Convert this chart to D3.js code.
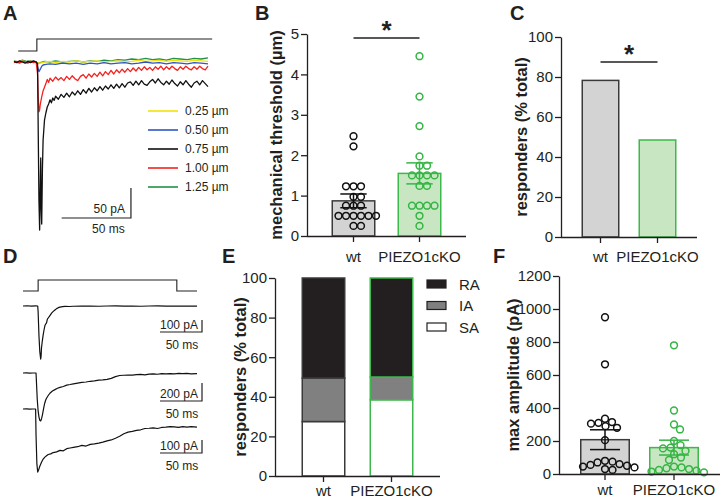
<!DOCTYPE html>
<html><head><meta charset="utf-8">
<script src="https://cdn.jsdelivr.net/npm/d3@7"></script>
<style>
body{margin:0;background:#fff}
svg{display:block}
text{font-family:"Liberation Sans",Arial,Helvetica,sans-serif;fill:#231f20}
</style></head>
<body><svg id="c" width="726" height="504"></svg>
<script>
// ---------------- DATA ----------------
const groups = ["wt", "PIEZO1cKO"];

// Panel A: stimulus-response traces (time ms, current pA)
const traceLabels = ["0.25 µm", "0.50 µm", "0.75 µm", "1.00 µm", "1.25 µm"];
const traceColors = ["#f2e30c", "#2f55c4", "#111111", "#f2231f", "#23914a"];
const trace025 = [[0,1],[3,0],[6,2],[9,0],[12,1],[15,0],[17,-1],[19,-2],[22,0],[26,1],[30,-1],[35,1],[40,0],[45,2],[50,0],[55,1],[60,2],[65,0],[70,1],[75,2],[80,0],[85,1],[90,3],[95,1],[100,2],[105,3],[110,1],[115,3],[120,2],[125,1],[130,3],[135,2],[140,1]];
const trace050 = [[0,0],[3,-1],[6,1],[9,-1],[12,0],[15,1],[16.5,-1],[17,-8],[18,-16],[19,-12],[20,-7],[21,-5],[23,-4],[26,-3],[30,-4],[35,-2],[40,-3],[45,-2],[50,-4],[55,-2],[60,-3],[65,-1],[70,-3],[75,-2],[80,-1],[85,-3],[90,-2],[95,0],[100,-2],[105,-1],[110,-3],[115,-1],[120,-2],[125,-3],[130,-1],[135,-2],[140,-3]];
const trace075 = [[0,1],[2,-1],[4,2],[6,0],[8,-2],[10,1],[12,-1],[14,2],[16,0],[17,-3],[17.5,-120],[18,-230],[18.5,-280],[19,-200],[19.3,-160],[19.6,-240],[20,-270],[20.5,-180],[21,-130],[22,-97],[23,-85],[24,-75],[25,-70],[26,-63],[27,-68],[28,-60],[29,-64],[30,-57],[32,-62],[34,-54],[36,-59],[38,-52],[40,-58],[42,-50],[44,-55],[46,-48],[48,-54],[50,-46],[52,-52],[54,-44],[56,-50],[58,-43],[60,-48],[62,-41],[64,-47],[66,-40],[68,-45],[70,-38],[72,-44],[74,-37],[76,-43],[78,-36],[80,-42],[82,-35],[84,-33],[86,-39],[88,-32],[90,-38],[92,-31],[94,-37],[96,-39],[98,-33],[100,-29],[102,-35],[104,-28],[106,-34],[108,-38],[110,-32],[112,-37],[114,-30],[116,-36],[118,-40],[120,-33],[122,-38],[124,-31],[126,-37],[128,-42],[130,-35],[132,-32],[134,-38],[136,-31],[138,-36],[140,-41]];
const trace100 = [[0,-1],[2,1],[4,-2],[6,1],[8,0],[10,-2],[12,1],[14,-1],[16,0],[17,-20],[17.5,-60],[18,-83],[18.5,-80],[19,-70],[20,-58],[21,-48],[22,-42],[23,-36],[24,-29],[25,-34],[26,-27],[28,-32],[30,-25],[32,-30],[34,-26],[36,-31],[38,-24],[40,-29],[42,-23],[44,-28],[46,-31],[48,-24],[50,-21],[52,-27],[54,-20],[56,-25],[58,-19],[60,-24],[62,-17],[64,-23],[66,-16],[68,-21],[70,-14],[72,-20],[74,-13],[76,-18],[78,-12],[80,-17],[82,-11],[84,-16],[86,-10],[88,-15],[90,-9],[92,-14],[94,-8],[96,-13],[98,-9],[100,-14],[102,-8],[104,-12],[106,-7],[108,-13],[110,-8],[112,-12],[114,-7],[116,-11],[118,-14],[120,-8],[122,-12],[124,-7],[126,-11],[128,-13],[130,-8],[132,-12],[134,-7],[136,-11],[138,-13],[140,-7]];
const trace125 = [[0,2],[3,0],[6,3],[9,1],[12,2],[15,0],[17,-2],[19,-1],[22,1],[26,0],[30,2],[35,0],[40,1],[45,2],[50,0],[55,2],[60,1],[65,3],[70,2],[75,4],[80,3],[85,5],[90,4],[95,6],[100,4],[105,5],[110,3],[115,6],[120,5],[125,4],[130,6],[135,5],[140,7]];
const stimA = [[3,0],[16.5,0],[16.5,1],[143,1]];

// Panel D: three example traces (time ms, current pA)
const stimD = [[0,0],[18,0],[18,1],[183,1],[183,0],[207,0]];
const traceD1 = [[0,0],[5,2],[10,-1],[15,1],[17.5,0],[18,-50],[19,-250],[20,-380],[21,-442],[21.5,-420],[22,-350],[23,-290],[24,-240],[25,-200],[26,-165],[27,-150],[28,-140],[29,-110],[30,-100],[32,-80],[34,-60],[36,-45],[38,-33],[40,-22],[42,-14],[44,-9],[47,-5],[50,-3],[55,-4],[60,-2],[70,-1],[80,0],[90,-2],[100,0],[110,1],[120,-1],[130,0],[140,-2],[150,0],[160,1],[170,-1],[180,0],[190,-1],[200,0],[207,-1]];
const traceD2 = [[0,0],[4,1],[8,-1],[12,0],[15.5,0],[16,-100],[17,-300],[18,-420],[19,-490],[20,-525],[21,-533],[22,-510],[23,-470],[24,-420],[25,-370],[26,-330],[27,-300],[28,-280],[30,-250],[32,-225],[35,-200],[38,-185],[41,-170],[44,-160],[48,-150],[52,-135],[56,-128],[60,-120],[65,-112],[70,-105],[75,-100],[80,-92],[85,-88],[90,-80],[95,-76],[100,-70],[105,-60],[110,-40],[115,-28],[120,-25],[125,-22],[130,-24],[135,-18],[140,-15],[145,-20],[150,-12],[155,-10],[160,-14],[165,-8],[170,-10],[175,-6],[180,-9],[185,-5],[190,-8],[195,-4],[200,-10],[207,-6]];
const traceD3 = [[0,0],[4,1],[8,-1],[12,0],[15,0],[15.5,-200],[16.5,-420],[17.5,-485],[18.5,-470],[20,-440],[22,-410],[24,-385],[26,-370],[28,-360],[30,-350],[33,-345],[36,-335],[40,-330],[44,-318],[48,-322],[52,-305],[56,-300],[60,-295],[65,-290],[70,-280],[75,-285],[80,-272],[85,-268],[90,-262],[95,-255],[100,-245],[105,-238],[110,-225],[115,-210],[120,-190],[125,-178],[130,-172],[135,-165],[140,-160],[145,-150],[150,-148],[155,-145],[160,-150],[165,-142],[170,-140],[175,-135],[180,-138],[185,-142],[190,-136],[195,-140],[200,-135],[207,-140]];
const scaleBarsD = [100, 200, 100]; // pA

// Panel B: mechanical threshold (µm)
const thresholdTicks = [0, 1, 2, 3, 4, 5];
const thresholdMean = [0.87, 1.55];
const thresholdSem = [0.17, 0.26];
const thresholdWt = [2.47, 2.22, 1.23, 1.23, 1.23, 0.97, 0.97, 0.75, 0.75, 0.75, 0.5, 0.5, 0.5, 0.5, 0.5, 0.5, 0.25, 0.25];
const thresholdKO = [4.45, 3.45, 2.72, 1.97, 1.74, 1.74, 1.5, 1.5, 1.5, 1.5, 1.24, 1.24, 0.75, 0.75, 0.75, 0.75, 0.5, 0.25];

// Panel C: responders (% total)
const pctTicks = [0, 20, 40, 60, 80, 100];
const respondersPct = [78.3, 48.5];

// Panel E: responder types (% total), stacked
const typeKeys = ["RA", "IA", "SA"];
const saPct = [27.5, 38.5];
const iaPct = [22.0, 11.5];
const raPct = [50.5, 50.0];

// Panel F: max amplitude (pA)
const ampTicks = [0, 200, 400, 600, 800, 1000, 1200];
const ampMean = [208, 160];
const ampSem = [60, 45];
const ampWt = [950, 665, 335, 315, 310, 305, 290, 280, 205, 80, 75, 70, 60, 55, 50, 45, 40, 30, 25];
const ampKO = [780, 385, 300, 270, 200, 175, 160, 155, 140, 120, 100, 85, 45, 40, 35, 30, 25, 20, 15, 10];

// ---------------- STYLE ----------------
const INK = "#231f20";
const GREY_FILL = "#d3d3d3", GREY_STROKE = "#3a3a3a";
const GREEN_FILL = "#c7e6c1", GREEN_STROKE = "#3cb94a";
const FONT = '"Liberation Sans",Arial,Helvetica,sans-serif';

const svg = d3.select("#c");

function panelLabel(t, x, y) {
  svg.append("text").attr("x", x).attr("y", y).attr("font-size", 20).attr("font-weight", "bold").text(t);
}

function bandScale(x0, x1, step, barW) {
  const pI = 1 - barW / step;
  const pO = ((x1 - x0) / step - groups.length + pI) / 2;
  return d3.scaleBand().domain(groups).range([x0, x1]).paddingInner(pI).paddingOuter(pO);
}

function styleAxis(g) {
  g.selectAll(".domain").attr("stroke", INK).attr("stroke-width", 1.3);
  g.selectAll(".tick line").attr("stroke", INK).attr("stroke-width", 1.3);
  g.selectAll(".tick text").attr("font-size", 15).attr("font-family", FONT).attr("fill", INK);
}

function yAxis(y, ticks, x, fmt) {
  const g = svg.append("g").attr("transform", `translate(${x},0)`)
    .call(d3.axisLeft(y).tickValues(ticks).tickSize(6).tickSizeOuter(0).tickPadding(2).tickFormat(fmt || d3.format("d")));
  styleAxis(g);
  return g;
}
function xAxis(xb, y0, x0, x1, labelPad) {
  const g = svg.append("g").attr("transform", `translate(0,${y0})`)
    .call(d3.axisBottom(xb).tickSize(6).tickSizeOuter(0).tickPadding(labelPad));
  g.select(".domain").attr("d", `M${x0},0.5H${x1}`);
  styleAxis(g);
  return g;
}
function yTitle(t, cx, cy) {
  svg.append("text").attr("transform", `translate(${cx},${cy}) rotate(-90)`)
    .attr("text-anchor", "middle").attr("dominant-baseline", "central")
    .attr("font-size", 16.5).attr("font-weight", "bold").text(t);
}

function swarm(values, y, r) {
  const placed = [];
  const cands = [0];
  for (let k = 1; k <= 80; k++) { cands.push(k * 0.5, -k * 0.5); }
  return values.map(v => {
    const py = y(v);
    let best = 0;
    for (const dx of cands) {
      if (placed.every(p => (p.dx - dx) ** 2 + (p.y - py) ** 2 >= (2 * r + 0.6) ** 2)) { best = dx; break; }
    }
    placed.push({dx: best, y: py});
    return {dx: best, y: py};
  });
}

function barsWithDots(xb, y, means, sems, dots, r) {
  const fills = [GREY_FILL, GREEN_FILL], strokes = [GREY_STROKE, GREEN_STROKE];
  svg.append("g").selectAll("rect").data(means).join("rect")
    .attr("x", (d, i) => xb(groups[i]) + 0.75).attr("width", xb.bandwidth() - 1.5)
    .attr("y", d => y(d)).attr("height", d => y(0) - y(d))
    .attr("fill", (d, i) => fills[i]).attr("stroke", (d, i) => strokes[i]).attr("stroke-width", 1.5);
  dots.forEach((vals, i) => {
    const cx = xb(groups[i]) + xb.bandwidth() / 2;
    svg.append("g").selectAll("circle").data(swarm(vals, y, r)).join("circle")
      .attr("cx", d => cx + d.dx).attr("cy", d => d.y).attr("r", r)
      .attr("fill", "none").attr("stroke", i === 0 ? "#111" : "#35b544").attr("stroke-width", 1.5);
  });
  if (sems) {
    means.forEach((m, i) => {
      const cx = xb(groups[i]) + xb.bandwidth() / 2;
      const col = i === 0 ? "#111" : "#35b544";
      const cw = xb.bandwidth() * 0.3;
      const g = svg.append("g").attr("stroke", col).attr("stroke-width", 1.5).attr("fill", "none");
      g.append("line").attr("x1", cx).attr("x2", cx).attr("y1", y(m - sems[i])).attr("y2", y(m + sems[i]));
      g.append("line").attr("x1", cx - cw).attr("x2", cx + cw).attr("y1", y(m + sems[i])).attr("y2", y(m + sems[i]));
      g.append("line").attr("x1", cx - cw).attr("x2", cx + cw).attr("y1", y(m - sems[i])).attr("y2", y(m - sems[i]));
    });
  }
}

function sigBar(xb, yPos, starY) {
  const a = xb(groups[0]) + xb.bandwidth() / 2, b = xb(groups[1]) + xb.bandwidth() / 2;
  svg.append("line").attr("x1", a).attr("x2", b).attr("y1", yPos).attr("y2", yPos).attr("stroke", INK).attr("stroke-width", 1.5);
  svg.append("text").attr("x", (a + b) / 2).attr("y", starY).attr("text-anchor", "middle")
    .attr("font-size", 26).attr("font-weight", "bold").text("*");
}

// ---------------- PANEL A ----------------
panelLabel("A", 3, 20);
{
  const x = d3.scaleLinear().domain([0, 140]).range([14, 208]);
  const y = d3.scaleLinear().domain([-280, 0]).range([230, 62]);
  const yS = d3.scaleLinear().domain([0, 1]).range([51, 39]);
  svg.append("path").datum(stimA).attr("fill", "none").attr("stroke", INK).attr("stroke-width", 1.1)
    .attr("d", d3.line().x(d => x(d[0])).y(d => yS(d[1])));
  const line = d3.line().x(d => x(d[0])).y(d => y(d[1]));
  const traces = [trace025, trace050, trace075, trace100, trace125];
  [4, 0, 1, 3, 2].forEach(i => {
    svg.append("path").datum(traces[i]).attr("fill", "none").attr("stroke", traceColors[i])
      .attr("stroke-width", 1.3).attr("stroke-linejoin", "round").attr("d", line);
  });
  const ly = d3.scalePoint().domain(traceLabels).range([111, 187]);
  traceLabels.forEach((t, i) => {
    svg.append("line").attr("x1", 148).attr("x2", 178).attr("y1", ly(t)).attr("y2", ly(t))
      .attr("stroke", traceColors[i]).attr("stroke-width", 1.6);
    svg.append("text").attr("x", 185).attr("y", ly(t)).attr("dominant-baseline", "central")
      .attr("font-size", 12).text(t);
  });
  const bx = x(84.4), by = y(-260);
  svg.append("path").attr("fill", "none").attr("stroke", INK).attr("stroke-width", 1.2)
    .attr("d", `M${x(34.4)},${by}H${bx}V${y(-210)}`);
  svg.append("text").attr("x", bx - 6).attr("y", by - 5).attr("text-anchor", "end").attr("font-size", 12).text("50 pA");
  svg.append("text").attr("x", (x(34.4) + bx) / 2 + 12).attr("y", by + 15).attr("text-anchor", "middle").attr("font-size", 12).text("50 ms");
}

// ---------------- PANEL D ----------------
panelLabel("D", 3, 263);
{
  const x = d3.scaleLinear().domain([0, 207]).range([23, 197]);
  const yS = d3.scaleLinear().domain([0, 1]).range([291, 280]);
  svg.append("path").datum(stimD).attr("fill", "none").attr("stroke", INK).attr("stroke-width", 1.1)
    .attr("d", d3.line().x(d => x(d[0])).y(d => yS(d[1])));
  const specs = [
    {data: traceD1, base: 306, pxPerPA: 0.12, lineY: 332, lblY: 329, msY: 349},
    {data: traceD2, base: 373, pxPerPA: 0.09, lineY: 401, lblY: 398, msY: 418},
    {data: traceD3, base: 409, pxPerPA: 0.13, lineY: 453, lblY: 450, msY: 470}
  ];
  specs.forEach((s, i) => {
    const y = d3.scaleLinear().domain([-600, 0]).range([s.base + 600 * s.pxPerPA, s.base]);
    svg.append("path").datum(s.data).attr("fill", "none").attr("stroke", "#111").attr("stroke-width", 1.2)
      .attr("stroke-linejoin", "round").attr("d", d3.line().x(d => x(d[0])).y(d => y(d[1])));
    const barH = scaleBarsD[i] * s.pxPerPA;
    const bx = 202, bY = s.lineY;
    svg.append("path").attr("fill", "none").attr("stroke", INK).attr("stroke-width", 1.2)
      .attr("d", `M${bx - (x(50) - x(0))},${bY}H${bx}V${bY - barH}`);
    svg.append("text").attr("x", bx - 4).attr("y", s.lblY).attr("text-anchor", "end").attr("font-size", 12).text(scaleBarsD[i] + " pA");
    svg.append("text").attr("x", 182).attr("y", s.msY).attr("text-anchor", "middle").attr("font-size", 12).text("50 ms");
  });
}

// ---------------- PANEL B ----------------
panelLabel("B", 255, 20);
{
  const y = d3.scaleLinear().domain([0, 5]).range([236, 34]);
  const xb = bandScale(307, 466, 66, 44);
  barsWithDots(xb, y, thresholdMean, thresholdSem, [thresholdWt, thresholdKO], 3.4);
  yAxis(y, thresholdTicks, 307);
  xAxis(xb, 236, 307, 466, 9);
  yTitle("mechanical threshold (µm)", 276, 135);
  sigBar(xb, 38, 39);
}

// ---------------- PANEL C ----------------
panelLabel("C", 510, 20);
{
  const y = d3.scaleLinear().domain([0, 100]).range([237, 37]);
  const xb = bandScale(561, 697, 57, 38);
  barsWithDots(xb, y, respondersPct, null, [[], []], 3.4);
  yAxis(y, pctTicks, 561);
  xAxis(xb, 237, 561, 697, 8);
  yTitle("responders (% total)", 521, 137);
  sigBar(xb, 62, 63);
}

// ---------------- PANEL E ----------------
panelLabel("E", 222, 263);
{
  const y = d3.scaleLinear().domain([0, 100]).range([476, 278]);
  const xb = bandScale(275, 440, 68, 44);
  const rows = groups.map((g, i) => ({group: g, SA: saPct[i], IA: iaPct[i], RA: raPct[i]}));
  const stack = d3.stack().keys(["SA", "IA", "RA"])(rows);
  const fillOf = {RA: "#231f20", IA: "#808080", SA: "#ffffff"};
  const strokeOf = [GREY_STROKE, GREEN_STROKE];
  stack.forEach(layer => {
    svg.append("g").selectAll("rect").data(layer).join("rect")
      .attr("x", d => xb(d.data.group) + 0.75).attr("width", xb.bandwidth() - 1.5)
      .attr("y", d => y(d[1])).attr("height", d => y(d[0]) - y(d[1]))
      .attr("fill", fillOf[layer.key]).attr("stroke", (d, i) => strokeOf[i]).attr("stroke-width", 1.5);
  });
  yAxis(y, pctTicks, 275);
  xAxis(xb, 476, 275, 440, 3);
  yTitle("responders (% total)", 240, 377);
  const ly = d3.scalePoint().domain(typeKeys).range([284, 327]);
  typeKeys.forEach(k => {
    svg.append("rect").attr("x", 427).attr("y", ly(k) - 4).attr("width", 19).attr("height", 8)
      .attr("fill", fillOf[k]).attr("stroke", INK).attr("stroke-width", 1.2);
    svg.append("text").attr("x", 459).attr("y", ly(k)).attr("dominant-baseline", "central").attr("font-size", 15).text(k);
  });
}

// ---------------- PANEL F ----------------
panelLabel("F", 493, 263);
{
  const y = d3.scaleLinear().domain([0, 1200]).range([474, 276]);
  const xb = bandScale(559, 720, 69, 50);
  barsWithDots(xb, y, ampMean, ampSem, [ampWt, ampKO], 3.4);
  yAxis(y, ampTicks, 559);
  xAxis(xb, 474, 559, 720, 4);
  yTitle("max amplitude (pA)", 513, 375);
}
</script></body></html>
